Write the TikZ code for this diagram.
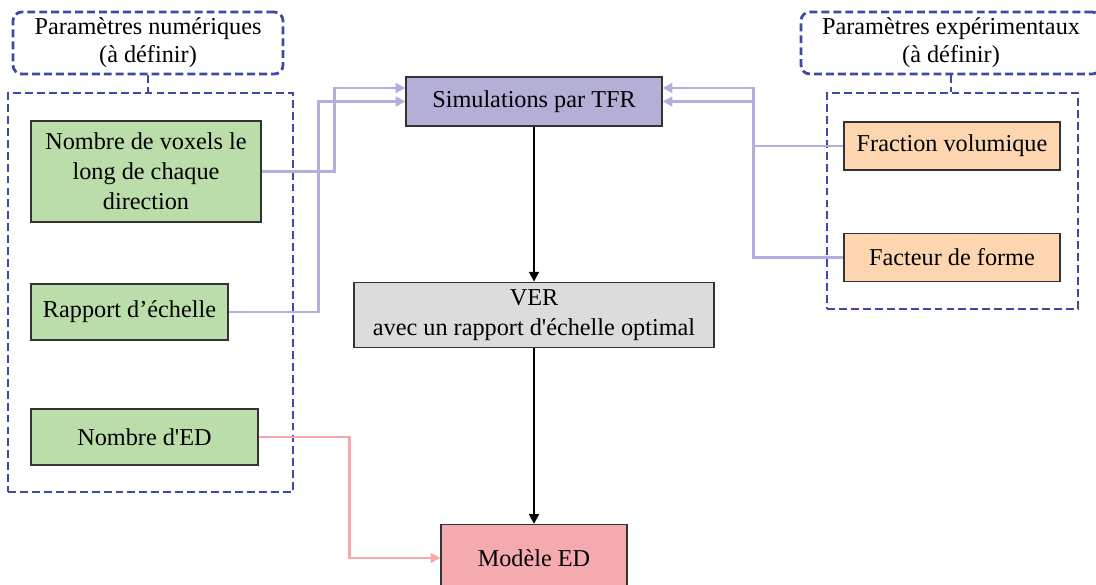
\documentclass[tikz,border=0pt]{standalone}
\usepackage{fontspec}
\setmainfont{Liberation Serif}
\usetikzlibrary{arrows.meta, positioning}
\definecolor{grpblue}{HTML}{3F4AA5}
\definecolor{parline}{HTML}{B4AEDC}
\definecolor{simfill}{HTML}{B3AFD7}
\definecolor{verfill}{HTML}{DCDCDC}
\definecolor{numfill}{HTML}{BBDDA9}
\definecolor{expfill}{HTML}{FDD6B0}
\definecolor{modfill}{HTML}{F5AAB0}
\definecolor{modline}{HTML}{F7A8AD}

\begin{document}
\begin{tikzpicture}[>={Triangle[length=5.5pt, width=5.5pt]},
    box/.style={rectangle, draw=black!80, line width=0.7pt, align=center, inner sep=2pt, font=\fontsize{13.8}{17}\selectfont},
    grp/.style={rectangle, draw=grpblue, line width=1.6pt, dash pattern=on 4.5pt off 2.3pt},
    head/.style={grp, rounded corners=5pt, align=center, minimum height=1.24cm, font=\fontsize{13.8}{16}\selectfont},
    link/.style={draw=parline, line width=1.6pt, ->},
    flow/.style={draw=black, line width=1.3pt, ->}]
  \useasboundingbox (0,0) rectangle (21.92,-11.7);
  % groupes de parametres
  \node[head, minimum width=5.4cm] (NumHead) at (2.96,-0.86) {Paramètres numériques\\(à définir)};
  \node[head, minimum width=6cm] (ExpHead) at (19.02,-0.86) {Paramètres expérimentaux\\(à définir)};
  \node[grp, minimum width=5.7cm, minimum height=7.98cm] (NumGrp) at (3.01,-5.85) {};
  \node[grp, minimum width=5.02cm, minimum height=4.32cm] (ExpGrp) at (19.05,-4.02) {};
  \draw[grp] (NumHead.south) -- (NumHead.south |- NumGrp.north);
  \draw[grp] (ExpHead.south) -- (ExpHead.south |- ExpGrp.north);
  % parametres
  \node[box, fill=numfill, minimum width=4.6cm, minimum height=2.02cm] (Voxels) at (2.92,-3.43) {Nombre de voxels le\\long de chaque\\direction};
  \node[box, fill=numfill, minimum width=3.94cm, minimum height=1.12cm] (Rapport) at (2.59,-6.24) {Rapport d’échelle};
  \node[box, fill=numfill, minimum width=4.54cm, minimum height=1.12cm] (NbED) at (2.89,-8.74) {Nombre d\textquotesingle ED};
  \node[box, fill=expfill, minimum width=4.32cm, minimum height=0.96cm] (Frac) at (19.04,-2.92) {Fraction volumique};
  \node[box, fill=expfill, minimum width=4.32cm, minimum height=0.96cm, below=1.24cm of Frac] (Forme) {Facteur de forme};
  % chaine principale
  \node[box, fill=simfill, minimum width=5.12cm, minimum height=0.98cm] (TFR) at (10.68,-2.03) {Simulations par TFR};
  \node[box, fill=verfill, minimum width=7.2cm, minimum height=1.3cm, below=3.1cm of TFR] (VER) {VER\\avec un rapport d\textquotesingle échelle optimal};
  \node[box, fill=modfill, minimum width=3.72cm, minimum height=1.34cm, below=3.52cm of VER] (Modele) {Modèle ED};
  \draw[flow] (TFR) -- (VER);
  \draw[flow] (VER) -- (Modele);
  \draw[link] (Voxels.east) -- ++(1.46,0) |- ([yshift=0.27cm]TFR.west);
  \draw[link] (Rapport.east) -- ++(1.8,0) |- (TFR.west);
  \draw[link] (Frac.west) -- ++(-1.8,0) |- ([yshift=0.27cm]TFR.east);
  \draw[link] (Forme.west) -- ++(-1.8,0) |- (TFR.east);
  \draw[link, draw=modline] (NbED.east) -- ++(1.82,0) |- (Modele.west);
\end{tikzpicture}
\end{document}
